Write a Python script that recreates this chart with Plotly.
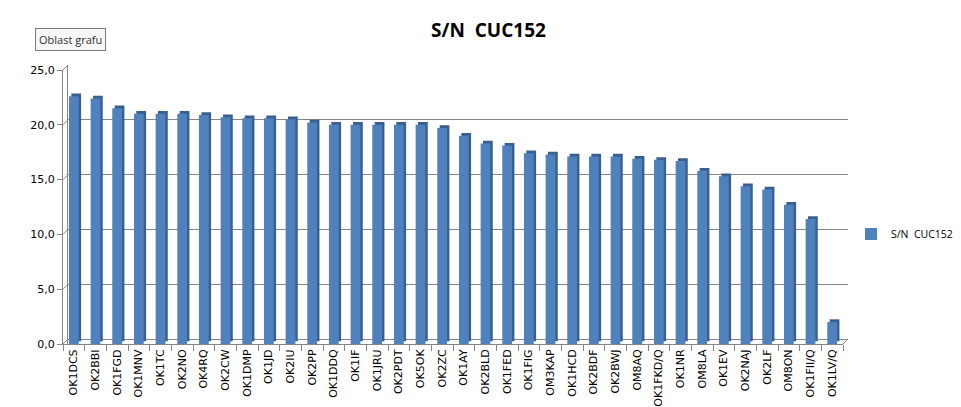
import plotly.graph_objects as go

categories = ["OK1DCS", "OK2BBI", "OK1FGD", "OK1MNV", "OK1TC", "OK2NO", "OK4RQ", "OK2CW",
              "OK1DMP", "OK1JD", "OK2IU", "OK2PP", "OK1DDQ", "OK1IF", "OK1JRU", "OK2PDT",
              "OK5OK", "OK2ZC", "OK1AY", "OK2BLD", "OK1FED", "OK1FIG", "OM3KAP", "OK1HCD",
              "OK2BDF", "OK2BWJ", "OM8AQ", "OK1FKD/Q", "OK1NR", "OM8LA", "OK1EV", "OK2NAJ",
              "OK2LF", "OM8ON", "OK1FII/Q", "OK1LV/Q"]
values = [22.6, 22.4, 21.5, 21.0, 21.0, 21.0, 20.9, 20.7,
          20.6, 20.6, 20.5, 20.2, 20.0, 20.0, 20.0, 20.0,
          20.0, 19.7, 19.0, 18.3, 18.1, 17.4, 17.3, 17.1,
          17.1, 17.1, 16.9, 16.8, 16.7, 15.8, 15.3, 14.4,
          14.1, 12.7, 11.4, 2.0]
series_name = "S/N  CUC152"
y_ticks = [0, 5, 10, 15, 20, 25]

W, H = 961, 407
# front plane pixels
x0f, x1f = 55, 835
y0f, y1f = 336, 62
depth = 5  # px offset of back wall
ppu = (y0f - y1f) / 25.0

grid_col = "#868686"

fig = go.Figure()

# back wall grid subplot (xy)
fig.add_trace(go.Scatter(x=[0, 1], y=[0, 0], mode="lines", line=dict(width=0),
                         hoverinfo="skip", showlegend=False, xaxis="x", yaxis="y"))

# 3D side faces (darker), drawn behind front faces
fig.add_trace(go.Bar(x=categories, y=values, base=0.25, width=0.45, offset=-0.225 + 0.11,
                     marker=dict(color="#3A5F8E", line=dict(width=0)),
                     showlegend=False, hoverinfo="skip", xaxis="x2", yaxis="y2"))
# front faces
fig.add_trace(go.Bar(x=categories, y=values, width=0.45, offset=-0.225,
                     marker=dict(color="#4F81BD", line=dict(width=0)),
                     name=series_name, xaxis="x2", yaxis="y2"))

shift = depth / ppu
grid_bottom_px = H - y0f
grid_top_px = H - (y1f - depth)

shapes = []
# diagonal connectors between front axis ticks and back wall gridlines
for v in y_ticks:
    yf = (H - y0f + v * ppu) / H
    yb = (H - y0f + v * ppu + depth) / H
    shapes.append(dict(type="line", xref="paper", yref="paper",
                       x0=x0f / W, y0=yf, x1=(x0f + depth) / W, y1=yb,
                       line=dict(color=grid_col, width=1)))
# right floor edge
shapes.append(dict(type="line", xref="paper", yref="paper",
                   x0=x1f / W, y0=(H - y0f) / H, x1=(x1f + depth) / W, y1=(H - y0f + depth) / H,
                   line=dict(color=grid_col, width=1)))

fig.update_layout(
    width=W, height=H,
    margin=dict(l=0, r=0, t=0, b=0, autoexpand=False),
    paper_bgcolor="white",
    plot_bgcolor="rgba(0,0,0,0)",
    separators=",.",
    barmode="overlay",
    font=dict(family="DejaVu Sans", size=11, color="#000000"),
    title=dict(text="<b>" + series_name + "</b>", x=0.5, xanchor="center",
               y=1 - 22 / H, yanchor="middle",
               font=dict(family="Open Sans", size=19, color="#000000")),
    xaxis=dict(domain=[(x0f + depth) / W, (x1f + depth) / W], range=[0, 1],
               visible=False, fixedrange=True, automargin=False),
    yaxis=dict(domain=[grid_bottom_px / H, grid_top_px / H],
               range=[-shift, 25], tickvals=y_ticks, showgrid=True,
               gridcolor=grid_col, gridwidth=1, zeroline=False,
               showticklabels=False, showline=True, linecolor=grid_col,
               ticks="", fixedrange=True, automargin=False),
    xaxis2=dict(domain=[x0f / W, x1f / W], anchor="y2",
                type="category", range=[-0.5, len(categories) - 0.5],
                tickangle=-90, showline=True, linecolor=grid_col,
                ticks="outside", tickson="boundaries", ticklen=6,
                tickcolor=grid_col, showgrid=False, automargin=False,
                tickfont=dict(family="DejaVu Sans", size=11)),
    yaxis2=dict(domain=[(H - y0f) / H, (H - y1f) / H], anchor="x2",
                range=[0, 25], tickvals=y_ticks, tickformat=".1f",
                showline=True, linecolor=grid_col, ticks="outside",
                ticklen=5, tickcolor=grid_col, showgrid=False, zeroline=False,
                automargin=False,
                tickfont=dict(family="DejaVu Sans", size=11)),
    legend=dict(x=843 / W, y=1 - 226 / H, xanchor="left", yanchor="middle",
                font=dict(family="Open Sans", size=10.5), bgcolor="rgba(0,0,0,0)",
                itemwidth=30, borderwidth=0),
    showlegend=True,
    shapes=shapes,
    annotations=[dict(text="Oblast grafu", xref="paper", yref="paper",
                      x=27 / W, y=1 - 32 / H, xanchor="left", yanchor="middle",
                      showarrow=False, bordercolor="#7A7A7A", borderwidth=1,
                      borderpad=3, bgcolor="#F7F7F7",
                      font=dict(family="Open Sans", size=11, color="#333333"))],
)

fig.write_html("out.html")
